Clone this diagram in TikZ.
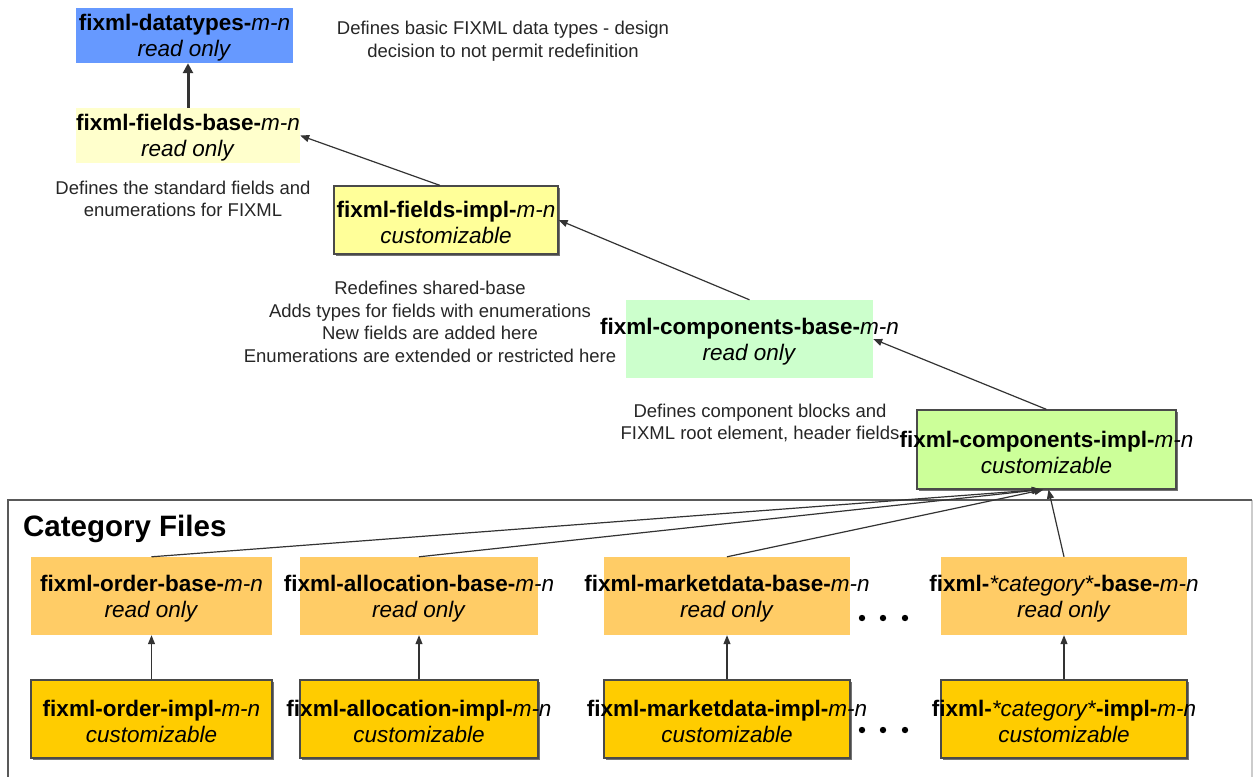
\documentclass[tikz,border=0pt]{standalone}
\usepackage{fontspec}
\setmainfont{Liberation Sans}
\usetikzlibrary{arrows.meta,shadows}

\definecolor{dtblue}{HTML}{6699FF}
\definecolor{fbyellow}{HTML}{FFFFCC}
\definecolor{fiyellow}{HTML}{FFFF99}
\definecolor{cbgreen}{HTML}{CCFFCC}
\definecolor{cigreen}{HTML}{CCFF99}
\definecolor{catbase}{HTML}{FFCC66}
\definecolor{catimpl}{HTML}{FFCC00}
\definecolor{edge}{HTML}{4A4A4A}

\tikzset{
  plainbox/.style={draw=none, inner sep=0pt},
  implbox/.style={draw=edge, line width=1.2pt, inner sep=0pt,
    drop shadow={shadow xshift=2pt, shadow yshift=-2pt, fill=black!55, opacity=1}},
  boxtext/.style={align=center, inner sep=0pt, font=\fontsize{22.5}{26}\selectfont},
  note/.style={align=center, inner sep=0pt, text=black!85, font=\fontsize{18.5}{22.7}\selectfont},
  arr/.style={draw=black!80, line width=1.2pt, -{Triangle[length=9pt,width=7pt]}},
}

% a file box: name, centre x, centre y, width, height, style, label
\newcommand\fxbox[7]{%
  \node[#6, minimum width=#4pt, minimum height=#5pt] (#1) at (#2,#3) {};
  \node[boxtext] at ([yshift=-2.5pt]#1.center) {#7};
}

\begin{document}
\begin{tikzpicture}[x=1pt, y=-1pt]
\useasboundingbox (0,0) rectangle (1254,777);

% category frame
\draw[black!20, line width=1.5pt] (1252,500) -- (1252,777);
\draw[black!65, line width=1.3pt] (8,777) -- (8,500) -- (1252,500);
\node[anchor=west, inner sep=0pt, font=\fontsize{29.5}{32}\selectfont\bfseries] (cat) at (23,529) {Category Files};

% shared files
\fxbox{dt}{184.5}{35.5}{217}{55}{plainbox, fill=dtblue}{\textbf{fixml-datatypes-}\textit{m-n}\\\textit{read only}}
\fxbox{fb}{188}{135.5}{224}{55}{plainbox, fill=fbyellow}{\textbf{fixml-fields-base-}\textit{m-n}\\\textit{read only}}
\fxbox{fi}{446}{220}{224}{68}{implbox, fill=fiyellow}{\textbf{fixml-fields-impl-}\textit{m-n}\\\textit{customizable}}
\fxbox{cb}{749.5}{339}{247}{78}{plainbox, fill=cbgreen}{\textbf{fixml-components-base-}\textit{m-n}\\\textit{read only}}
\fxbox{ci}{1046.5}{449.5}{259}{79}{implbox, fill=cigreen}{\textbf{fixml-components-impl-}\textit{m-n}\\\textit{customizable}}

% category base files
\fxbox{ob}{151.5}{596}{241}{78}{plainbox, fill=catbase}{\textbf{fixml-order-base-}\textit{m-n}\\\textit{read only}}
\fxbox{ab}{419}{596}{238}{78}{plainbox, fill=catbase}{\textbf{fixml-allocation-base-}\textit{m-n}\\\textit{read only}}
\fxbox{mb}{727}{596}{246}{78}{plainbox, fill=catbase}{\textbf{fixml-marketdata-base-}\textit{m-n}\\\textit{read only}}
\fxbox{kb}{1064}{596}{246}{78}{plainbox, fill=catbase}{\textbf{fixml-}\textit{*category*}\textbf{-base-}\textit{m-n}\\\textit{read only}}

% category impl files
\fxbox{oi}{151.5}{719}{241}{78}{implbox, fill=catimpl}{\textbf{fixml-order-impl-}\textit{m-n}\\\textit{customizable}}
\fxbox{ai}{419}{719}{238}{78}{implbox, fill=catimpl}{\textbf{fixml-allocation-impl-}\textit{m-n}\\\textit{customizable}}
\fxbox{mi}{727}{719}{246}{78}{implbox, fill=catimpl}{\textbf{fixml-marketdata-impl-}\textit{m-n}\\\textit{customizable}}
\fxbox{ki}{1064}{719}{246}{78}{implbox, fill=catimpl}{\textbf{fixml-}\textit{*category*}\textbf{-impl-}\textit{m-n}\\\textit{customizable}}

% ellipses between categories
\foreach \yy in {618,730} \foreach \xx in {862,883,905} \fill (\xx,\yy) circle (3.2);

% notes
\node[note] (n1) at (503,41) {Defines basic FIXML data types - design\\decision to not permit redefinition};
\node[note] (n2) at (183,199) {Defines the standard fields and\\enumerations for FIXML};
\node[note] (n3) at (430,322) {Redefines shared-base\\Adds types for fields with enumerations\\New fields are added here\\Enumerations are extended or restricted here};
\node[note] (n4) at (760,423) {Defines component blocks and\\FIXML root element, header fields};

% dependencies
\draw[arr, line width=3pt, -{Triangle[length=10pt,width=10pt]}] (fb.north) -- (fb.north |- dt.south);
\draw[arr] ([xshift=-6pt]fi.north) -- (fb.east);
\draw[arr] (cb.north) -- (fi.east);
\draw[arr] (ci.north) -- (cb.east);
\draw[arr] (ob.north) -- ([xshift=-6pt]ci.south);
\draw[arr] (ab.north) -- ([xshift=-5pt]ci.south);
\draw[arr] (mb.north) -- ([xshift=-3pt]ci.south);
\draw[arr] (kb.north) -- ([xshift=2pt]ci.south);
\foreach \s/\t in {oi/ob, ai/ab, mi/mb, ki/kb}
  \draw[arr] (\s.north) -- (\t.south);
\end{tikzpicture}
\end{document}
